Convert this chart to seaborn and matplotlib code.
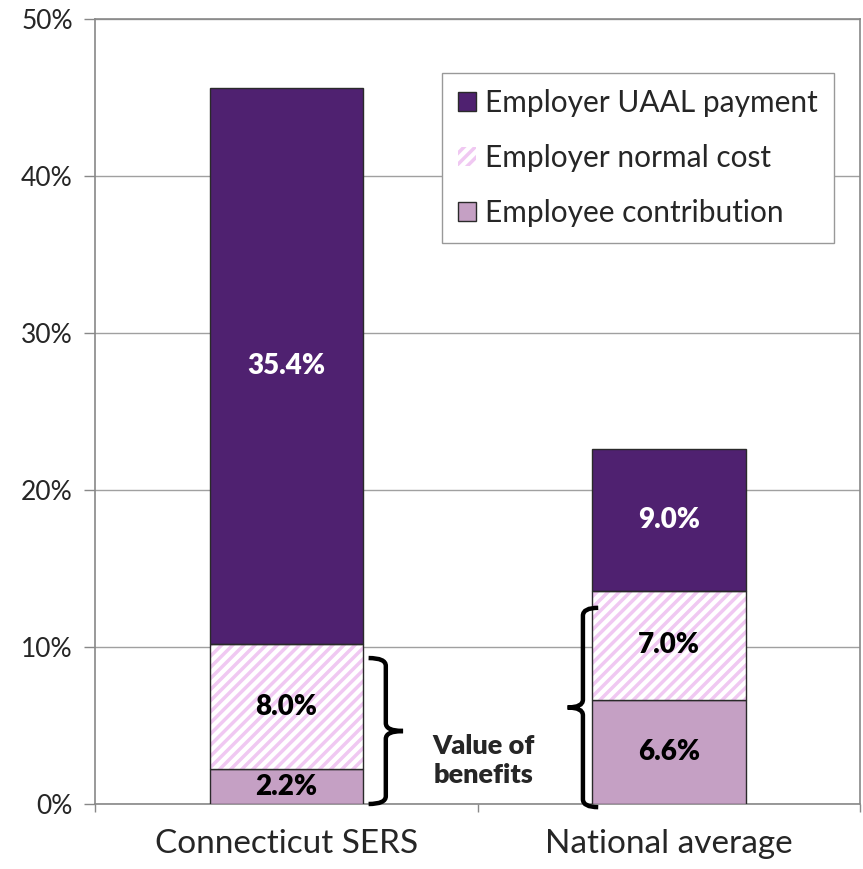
import numpy as np
import pandas as pd
import matplotlib
matplotlib.use('Agg')
import matplotlib.pyplot as plt
import seaborn as sns
from matplotlib.path import Path
from matplotlib.patches import PathPatch, Patch

plans = ['Connecticut SERS', 'National average']
employee = [2.2, 6.6]
normal_cost = [8.0, 7.0]
uaal = [35.4, 9.0]
series_names = ['Employer UAAL payment', 'Employer normal cost', 'Employee contribution']
yticks = [0, 10, 20, 30, 40, 50]
brace_spans = [(0.0, 9.3), (-0.2, 12.5)]

dark = '#4F2170'
light = '#C5A0C4'
hatch_pink = '#F0C8F2'
edge = '#2a2a2a'

sns.set_theme(style='white')
plt.rcParams['font.family'] = ['Lato', 'DejaVu Sans']
plt.rcParams['hatch.linewidth'] = 2.5

df = pd.DataFrame({'plan': plans, 'employee': employee,
                   'normal': normal_cost, 'uaal': uaal})
df['b2'] = df['employee'] + df['normal']

fig = plt.figure(figsize=(8.63, 8.69), dpi=100)
ax = fig.add_axes([0.110, 0.0748, 0.887, 0.903])

w = 0.4
sns.barplot(data=df, x='plan', y='employee', color=light, width=w,
            edgecolor=edge, linewidth=1, saturation=1, ax=ax, zorder=3)
# hatched layer: pink stripes on white, outline drawn separately
sns.barplot(data=df, x='plan', y='normal', bottom=df['employee'].values, color='white',
            width=w, edgecolor=hatch_pink, linewidth=0, hatch='///',
            saturation=1, ax=ax, zorder=3)
sns.barplot(data=df, x='plan', y='normal', bottom=df['employee'].values, color=edge,
            fill=False, width=w, edgecolor=edge, linewidth=1, ax=ax, zorder=4)
sns.barplot(data=df, x='plan', y='uaal', bottom=df['b2'].values, color=dark, width=w,
            edgecolor=edge, linewidth=1, saturation=1, ax=ax, zorder=3)

# segment labels
lab = dict(ha='center', va='center', fontsize=20, fontweight='heavy', zorder=5)
for i in range(len(plans)):
    ax.text(i, employee[i] / 2, f'{employee[i]:.1f}%', color='black', **lab)
    ax.text(i, employee[i] + normal_cost[i] / 2, f'{normal_cost[i]:.1f}%',
            color='black', **lab)
    ax.text(i, employee[i] + normal_cost[i] + uaal[i] / 2, f'{uaal[i]:.1f}%',
            color='white', **lab)


def brace(ax, x0, x1, y0, y1):
    # x0 = arm end, x1 = tip; works for both directions
    xm = (x0 + x1) / 2
    ym = (y0 + y1) / 2
    dy = 0.5
    verts = [(x0, y1), (xm, y1), (xm, y1 - dy),
             (xm, ym + dy), (xm, ym), (x1, ym),
             (xm, ym), (xm, ym - dy),
             (xm, y0 + dy), (xm, y0), (x0, y0)]
    codes = [Path.MOVETO, Path.CURVE3, Path.CURVE3,
             Path.LINETO, Path.CURVE3, Path.CURVE3,
             Path.CURVE3, Path.CURVE3,
             Path.LINETO, Path.CURVE3, Path.CURVE3]
    ax.add_patch(PathPatch(Path(verts, codes), fill=False, lw=3.2,
                           edgecolor='black', zorder=6, clip_on=False,
                           capstyle='butt'))


brace(ax, 0.0 + w / 2 + 0.015, 0.0 + w / 2 + 0.105, *brace_spans[0])
brace(ax, 1.0 - w / 2 + 0.015, 1.0 - w / 2 - 0.065, *brace_spans[1])
ax.text(0.515, 2.8, 'Value of\nbenefits', ha='center', va='center',
        fontsize=19.5, fontweight='heavy', linespacing=1.25)

ax.set_xlim(-0.5, 1.5)
ax.set_ylim(0, 50)
ax.set_yticks(yticks)
ax.set_yticklabels([f'{t}%' for t in yticks])
ax.set_xticks([0, 1])
ax.set_xticklabels(plans)
ax.set_xticks([-0.5, 0.5, 1.5], minor=True)
ax.tick_params(axis='y', length=8, width=1, color='#888888', labelsize=19,
               pad=8, direction='out', left=True)
ax.tick_params(axis='x', which='major', length=0, labelsize=24, pad=18)
ax.tick_params(axis='x', which='minor', length=6, width=1, color='#888888',
               bottom=True, direction='out')
ax.set_xlabel('')
ax.set_ylabel('')
ax.yaxis.grid(True, color='#A0A0A0', lw=1)
ax.set_axisbelow(True)
for s in ax.spines.values():
    s.set_color('#888888')
    s.set_linewidth(1.2)

handles = [Patch(facecolor=dark, edgecolor=edge, lw=1),
           Patch(facecolor='white', edgecolor=hatch_pink, hatch='///', lw=0),
           Patch(facecolor=light, edgecolor=edge, lw=1)]
leg = ax.legend(handles, series_names, loc='upper left',
                bbox_to_anchor=(0.453, 0.932), fontsize=21.5, frameon=True,
                fancybox=False, edgecolor='#999999', framealpha=1,
                handlelength=0.6, handleheight=0.6, handletextpad=0.3,
                labelspacing=0.9, borderpad=0.55, borderaxespad=0)
leg.get_frame().set_linewidth(1)

fig.savefig('out.png', dpi=100)
